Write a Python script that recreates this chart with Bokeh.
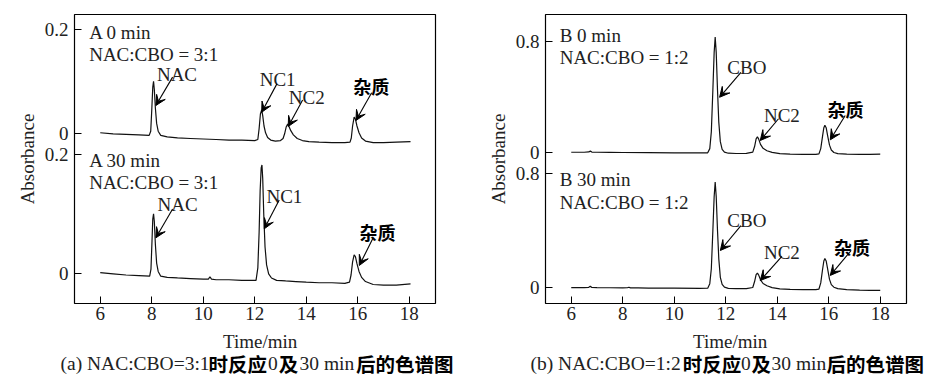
from bokeh.plotting import figure
from bokeh.models import Range1d, FixedTicker, Label, Arrow, VeeHead
from bokeh.layouts import row, column
from bokeh.embed import file_html
from bokeh.resources import INLINE

# ---------------- data ----------------
x_ticks = [6, 8, 10, 12, 14, 16, 18]
yticks_a = [0, 0.2]
yticks_b = [0, 0.8]
x_title = "Time/min"
y_title = "Absorbance"

# (a) NAC:CBO = 3:1, 0 min
time_a0 = [6.00, 6.50, 7.00, 7.50, 7.90, 7.96, 8.00, 8.04, 8.07, 8.10, 8.14, 8.19, 8.25, 8.35, 8.60,
           9.00, 9.50, 10.00, 10.50, 11.00, 11.50, 12.00, 12.12, 12.17, 12.22, 12.27, 12.31, 12.36, 12.42,
           12.50, 12.62, 12.80, 13.00, 13.10, 13.16, 13.22, 13.28, 13.33, 13.40, 13.50, 13.65, 13.85,
           14.10, 14.50, 15.00, 15.50, 15.70, 15.75, 15.80, 15.86, 15.91, 15.97, 16.05, 16.15, 16.30,
           16.60, 17.00, 17.50, 18.05]
abs_a0 = [0.002, 0.000, -0.001, -0.002, -0.003, 0.005, 0.045, 0.090, 0.101, 0.085, 0.050, 0.020, 0.005,
          -0.003, -0.006, -0.008, -0.009, -0.010, -0.011, -0.012, -0.012, -0.013, -0.011, 0.010, 0.038,
          0.046, 0.035, 0.015, 0.002, -0.007, -0.012, -0.014, -0.013, -0.009, 0.000, 0.013, 0.019, 0.014,
          0.006, -0.002, -0.009, -0.013, -0.015, -0.016, -0.017, -0.017, -0.016, -0.008, 0.015, 0.032,
          0.028, 0.015, 0.002, -0.008, -0.014, -0.017, -0.017, -0.016, -0.015]

# (a) NAC:CBO = 3:1, 30 min
time_a30 = [6.00, 6.50, 7.00, 7.50, 7.92, 7.97, 8.01, 8.04, 8.07, 8.10, 8.14, 8.19, 8.25, 8.35, 8.60,
            9.00, 9.50, 10.00, 10.20, 10.26, 10.32, 10.50, 11.00, 11.50, 12.05, 12.12, 12.17, 12.21,
            12.25, 12.28, 12.31, 12.35, 12.40, 12.46, 12.54, 12.65, 12.85, 13.20, 13.60, 14.00, 14.50,
            15.00, 15.50, 15.68, 15.74, 15.80, 15.86, 15.91, 15.97, 16.05, 16.15, 16.30, 16.60, 17.00,
            17.50, 18.05]
abs_a30 = [0.002, 0.000, -0.002, -0.003, -0.004, 0.008, 0.055, 0.092, 0.101, 0.088, 0.050, 0.018, 0.004,
           -0.004, -0.006, -0.007, -0.008, -0.009, -0.009, -0.005, -0.009, -0.010, -0.010, -0.011, -0.011,
           0.010, 0.070, 0.140, 0.178, 0.183, 0.160, 0.100, 0.045, 0.015, 0.000, -0.007, -0.011, -0.012,
           -0.013, -0.014, -0.015, -0.015, -0.016, -0.014, -0.002, 0.020, 0.032, 0.029, 0.017, 0.004,
           -0.006, -0.013, -0.018, -0.019, -0.019, -0.017]

# (b) NAC:CBO = 1:2, 0 min
time_b0 = [6.00, 6.50, 6.68, 6.74, 6.80, 7.00, 7.50, 8.00, 9.00, 10.00, 11.00, 11.30, 11.38, 11.44,
           11.50, 11.55, 11.59, 11.63, 11.68, 11.73, 11.79, 11.86, 11.95, 12.10, 12.40, 12.80, 13.05,
           13.12, 13.18, 13.23, 13.28, 13.35, 13.45, 13.60, 13.80, 14.10, 14.50, 15.00, 15.50, 15.62,
           15.69, 15.76, 15.81, 15.85, 15.90, 15.96, 16.03, 16.10, 16.20, 16.35, 16.70, 17.20, 17.60, 18.00]
abs_b0 = [0.004, 0.004, 0.006, 0.012, 0.005, 0.004, 0.003, 0.002, 0.001, 0.000, -0.001, 0.000, 0.030,
          0.150, 0.450, 0.720, 0.830, 0.720, 0.450, 0.220, 0.080, 0.025, 0.005, -0.003, -0.005, -0.004,
          0.005, 0.045, 0.100, 0.115, 0.098, 0.060, 0.032, 0.015, 0.003, -0.006, -0.010, -0.012, -0.011,
          -0.008, 0.030, 0.120, 0.180, 0.198, 0.180, 0.120, 0.055, 0.020, 0.002, -0.006, -0.010, -0.011,
          -0.011, -0.010]

# (b) NAC:CBO = 1:2, 30 min
time_b30 = [6.00, 6.50, 6.68, 6.74, 6.80, 7.00, 7.50, 8.00, 8.18, 8.24, 8.30, 8.60, 9.00, 10.00, 11.00,
            11.30, 11.38, 11.44, 11.50, 11.55, 11.59, 11.63, 11.68, 11.73, 11.79, 11.86, 11.95, 12.10,
            12.40, 12.80, 13.05, 13.12, 13.18, 13.23, 13.28, 13.35, 13.45, 13.60, 13.80, 14.10, 14.50,
            15.00, 15.50, 15.62, 15.69, 15.76, 15.81, 15.85, 15.90, 15.96, 16.03, 16.10, 16.20, 16.35,
            16.70, 17.20, 17.60, 18.00]
abs_b30 = [-0.003, -0.003, -0.001, 0.007, -0.002, -0.003, -0.004, -0.005, -0.004, 0.000, -0.005, -0.005,
           -0.006, -0.007, -0.008, -0.007, 0.025, 0.130, 0.400, 0.640, 0.741, 0.640, 0.400, 0.200, 0.070,
           0.020, 0.000, -0.008, -0.010, -0.010, -0.002, 0.040, 0.088, 0.100, 0.085, 0.052, 0.026, 0.010,
           -0.003, -0.012, -0.016, -0.017, -0.017, -0.013, 0.030, 0.125, 0.185, 0.203, 0.185, 0.125,
           0.055, 0.018, 0.000, -0.010, -0.017, -0.020, -0.022, -0.023]

caption_a = ["(a) NAC:CBO=3:1", "时反应", "0", "及", "30 min", "后的色谱图"]
caption_b = ["(b) NAC:CBO=1:2", "时反应", "0", "及", "30 min", "后的色谱图"]

# ---------------- layout / styles ----------------
SERIF = "Liberation Serif"
CJK = "Noto Sans CJK SC"
TXT = "#222222"
FS = "19px"
CHART_H = 331
CAP_H = 52
TOTAL_W = 941

panel_a = dict(
    width=470, border_left=74, border_right=35,
    upper=(time_a0, abs_a0), lower=(time_a30, abs_a30),
    up_range=(-0.3263, 0.2294), lo_range=(-0.0499, 0.4358), yticks=yticks_a,
    up_labels=[("A 0 min", 5.57, 0.194, "left"), ("NAC:CBO = 3:1", 5.57, 0.152, "left"),
               ("NAC", 8.98, 0.114, "center"), ("NC1", 12.89, 0.104, "center"),
               ("NC2", 14.02, 0.0704, "center"), ("杂质", 16.52, 0.091, "center")],
    up_arrows=[(8.81, 0.109, 8.16, 0.0544), (12.86, 0.096, 12.27, 0.0415),
               (13.86, 0.065, 13.30, 0.014), (16.54, 0.079, 15.93, 0.0256)],
    lo_labels=[("A 30 min", 5.57, 0.190, "left"), ("NAC:CBO = 3:1", 5.57, 0.153, "left"),
               ("NAC", 9.0, 0.1165, "center"), ("NC1", 13.15, 0.130, "center"),
               ("杂质", 16.77, 0.071, "center")],
    lo_arrows=[(8.81, 0.109, 8.16, 0.0605), (12.95, 0.124, 12.37, 0.0756),
               (16.6, 0.0605, 16.06, 0.014)],
)

panel_b = dict(
    width=471, border_left=75, border_right=35,
    upper=(time_b0, abs_b0), lower=(time_b30, abs_b30),
    up_range=(-1.0803, 0.9914), lo_range=(-0.115, 1.9238), yticks=yticks_b,
    up_labels=[("B 0 min", 5.55, 0.84, "left"), ("NAC:CBO = 1:2", 5.55, 0.68, "left"),
               ("CBO", 12.82, 0.609, "center"), ("NC2", 14.18, 0.267, "center"),
               ("杂质", 16.65, 0.317, "center")],
    up_arrows=[(12.59, 0.577, 11.76, 0.398), (14.05, 0.244, 13.34, 0.088),
               (16.64, 0.267, 16.06, 0.093)],
    lo_labels=[("B 30 min", 5.55, 0.758, "left"), ("NAC:CBO = 1:2", 5.55, 0.596, "left"),
               ("CBO", 12.82, 0.471, "center"), ("NC2", 14.18, 0.243, "center"),
               ("杂质", 16.9, 0.287, "center")],
    lo_arrows=[(12.59, 0.435, 11.79, 0.259), (14.18, 0.217, 13.34, 0.047),
               (16.87, 0.259, 16.06, 0.083)],
)

# caption strip (page-pixel layout): x-axis titles centred under each frame, caption segments
xtitle_x = [259.7, 729.7]
XTITLE_BASE = 42
caption_xa = [60, 208, 267.5, 278.3, 299, 355.5]
caption_xb = [530, 682.3, 740.5, 751, 771, 826]
CAP_BASE = 20


def is_cjk(s):
    return any(ord(ch) > 0x2E80 for ch in s)


def add_text(p, text, x, y, align, range_name="default", cjk_size="18px", latin_size=FS):
    cjk = is_cjk(text)
    lab = Label(x=x, y=y, text=text, text_align=align, text_baseline="alphabetic",
                text_font=CJK if cjk else SERIF,
                text_font_style="bold" if cjk else "normal",
                text_font_size=cjk_size if cjk else latin_size,
                text_color="black" if cjk else TXT)
    if range_name != "default":
        lab.y_range_name = range_name
    p.add_layout(lab)


def add_arrow(p, a, range_name="default"):
    x0, y0, x1, y1 = a
    arr = Arrow(x_start=x0, y_start=y0, x_end=x1, y_end=y1,
                line_color="black", line_width=1.1,
                end=VeeHead(size=10, fill_color="black", line_color="black", line_width=1))
    if range_name != "default":
        arr.y_range_name = range_name
    p.add_layout(arr)


def make_panel(cfg):
    p = figure(width=cfg["width"], height=CHART_H, output_backend="svg", toolbar_location=None,
               x_range=Range1d(5.0, 19.02), y_range=Range1d(*cfg["lo_range"]),
               min_border_left=cfg["border_left"], min_border_right=cfg["border_right"],
               min_border_top=14, min_border_bottom=CHART_H - 14 - 289)
    p.extra_y_ranges = {"upper": Range1d(*cfg["up_range"])}
    p.grid.visible = False
    p.outline_line_color = "black"
    p.outline_line_width = 1.2
    p.background_fill_color = "white"
    p.border_fill_color = "white"

    tx, ty = cfg["upper"]
    p.line(tx, ty, y_range_name="upper", line_color="#111111", line_width=1.2)
    tx, ty = cfg["lower"]
    p.line(tx, ty, line_color="#111111", line_width=1.2)

    # y ticks: lower trace ticks directly, upper trace ticks mapped through the two ranges
    lo = p.y_range
    up = p.extra_y_ranges["upper"]
    overrides = {}
    ticks = []
    for v in cfg["yticks"]:
        pos = round(float(v), 6)
        ticks.append(pos)
        overrides[pos] = "0" if v == 0 else str(v)
    for v in cfg["yticks"]:
        pos = lo.start + (v - up.start) / (up.end - up.start) * (lo.end - lo.start)
        pos = round(pos, 6)
        ticks.append(pos)
        overrides[pos] = "0" if v == 0 else str(v)

    yax = p.yaxis[0]
    yax.ticker = FixedTicker(ticks=ticks, minor_ticks=[])
    yax.major_label_overrides = overrides
    yax.axis_label = y_title
    yax.axis_label_standoff = 4
    yax.major_label_standoff = 6

    xax = p.xaxis[0]
    xax.ticker = FixedTicker(ticks=x_ticks, minor_ticks=[])
    xax.major_label_standoff = 3

    for ax in (xax, yax):
        ax.axis_line_color = None
        ax.major_tick_in = 7
        ax.major_tick_out = 0
        ax.minor_tick_in = 0
        ax.minor_tick_out = 0
        ax.major_tick_line_color = "black"
        ax.major_tick_line_width = 1
        ax.major_label_text_font = SERIF
        ax.major_label_text_font_size = FS
        ax.major_label_text_color = TXT
        ax.axis_label_text_font = SERIF
        ax.axis_label_text_font_size = FS
        ax.axis_label_text_font_style = "normal"
        ax.axis_label_text_color = TXT

    for (t, x, y, al) in cfg["up_labels"]:
        add_text(p, t, x, y, al, range_name="upper")
    for a in cfg["up_arrows"]:
        add_arrow(p, a, range_name="upper")
    for (t, x, y, al) in cfg["lo_labels"]:
        add_text(p, t, x, y, al)
    for a in cfg["lo_arrows"]:
        add_arrow(p, a)
    return p


def make_caption():
    c = figure(width=TOTAL_W, height=CAP_H, output_backend="svg", toolbar_location=None,
               x_range=Range1d(0, TOTAL_W), y_range=Range1d(0, CAP_H),
               min_border=0, x_axis_type=None, y_axis_type=None)
    c.grid.visible = False
    c.outline_line_color = None
    c.background_fill_color = "white"
    c.border_fill_color = "white"
    for x in xtitle_x:
        add_text(c, x_title, x, XTITLE_BASE, "center")
    for segs, xs in ((caption_a, caption_xa), (caption_b, caption_xb)):
        for t, x in zip(segs, xs):
            add_text(c, t, x, CAP_BASE, "left", cjk_size="19.5px", latin_size="19.5px")
    return c


pa = make_panel(panel_a)
pb = make_panel(panel_b)
cap = make_caption()
layout = column(row(pa, pb), cap)

open("out.html", "w").write(file_html(layout, INLINE))
